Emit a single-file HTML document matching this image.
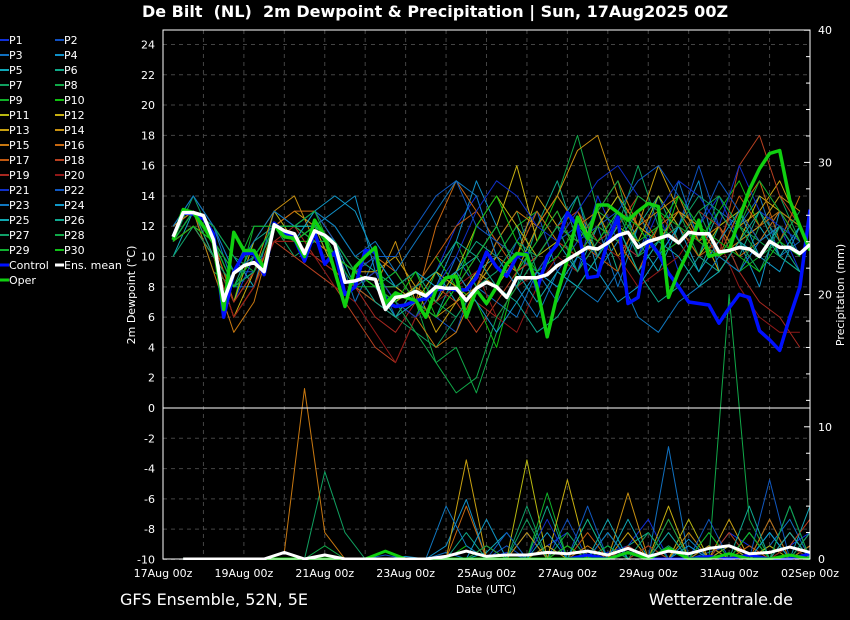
<!DOCTYPE html>
<html><head><meta charset="utf-8"><style>
html,body{margin:0;padding:0;background:#000;}
svg{display:block;font-family:"DejaVu Sans","Liberation Sans",sans-serif;}
</style></head><body>
<svg id="chart" width="850" height="620" viewBox="0 0 850 620">
<rect width="850" height="620" fill="#000"/>
<text x="435" y="17" fill="#fff" font-size="16" font-weight="bold" text-anchor="middle" style="white-space:pre" xml:space="preserve">De Bilt  (NL)  2m Dewpoint &amp; Precipitation | Sun, 17Aug2025 00Z</text>
<defs><clipPath id="plotclip"><rect x="163" y="30" width="647" height="530"/></clipPath></defs>
<g id="grid"></g>
<g id="series" clip-path="url(#plotclip)"></g>
<g id="axes"></g>
<g id="legend"></g>
<text x="120" y="605" fill="#fff" font-size="16">GFS Ensemble, 52N, 5E</text>
<text x="793" y="605" fill="#fff" font-size="16" text-anchor="end">Wetterzentrale.de</text>
</svg>
<script>
const xLabels=["17Aug 00z","19Aug 00z","21Aug 00z","23Aug 00z","25Aug 00z","27Aug 00z","29Aug 00z","31Aug 00z","02Sep 00z"];
const leftTicks=[24,22,20,18,16,14,12,10,8,6,4,2,0,-2,-4,-6,-8,-10];
const rightTicks=[0,10,20,30,40];
const memberNames=["P1","P2","P3","P4","P5","P6","P7","P8","P9","P10","P11","P12","P13","P14","P15","P16","P17","P18","P19","P20","P21","P22","P23","P24","P25","P26","P27","P28","P29","P30"];
const memberColors=["#1030d8","#1050c0","#1070c0","#1090c8","#10a8b8","#10a888","#10a060","#10a848","#10b028","#10c010","#b8b810","#c8b010","#c8a010","#c89010","#c87810","#c86810","#c05810","#b84020","#a82820","#901818","#1030c8","#1058c0","#1078c0","#1098c8","#10a8b0","#10a890","#10a068","#10a848","#10b030","#10c018"];
// Dewpoint, 12-hourly (06z start)
const dP1=[11,13,10,7,10,12,12,11,10,9,8,7,8,9,12,14,10,8,10,12,9,14,11,10,13,9,12,14,11,10,12,9];
const dP2=[11,13,11,9,9,12,11,12,9,8,9,6,7,6,5,9,8,11,13,9,11,12,13,10,14,12,16,12,9,11,13,10];
const dP3=[12,14,12,8,8,13,12,13,11,7,10,8,9,7,10,8,7,6,9,7,10,12,8,12,10,15,11,13,12,14,10,11];
const dP4=[11,13,11,9,10,12,11,12,13,14,9,7,6,8,11,15,12,9,10,12,14,9,11,13,10,12,15,9,11,8,13,12];
const dP5=[10,13,12,10,8,12,12,12,11,8,7,6,8,9,7,9,10,12,8,11,9,12,14,11,9,12,10,13,11,12,10,12];
const dP6=[12,13,10,8,11,12,11,13,12,10,9,8,7,6,9,11,10,8,12,15,11,13,9,12,14,11,9,12,10,13,11,9];
const dP7=[11,14,11,9,10,12,10,11,10,9,8,6,5,4,6,8,11,13,9,11,14,10,12,16,12,11,13,10,9,12,14,11];
const dP8=[11,13,9,8,9,12,12,12,11,9,8,9,7,3,4,1,5,9,12,14,18,13,12,9,11,13,10,14,12,11,10,9];
const dP9=[11,12,10,7,12,12,11,11,10,9,8,7,6,9,11,8,10,12,13,11,10,12,14,12,10,11,13,12,9,10,12,11];
const dP10=[11,13,11,9,10,12,11,11,11,9,8,7,8,10,8,7,4,9,11,14,12,10,13,11,12,14,11,13,15,12,13,12];
const dP11=[11,12,11,7,11,13,11,12,9,8,9,7,8,7,9,12,14,12,10,11,13,10,12,11,14,12,10,12,13,11,12,10];
const dP12=[12,13,10,6,9,12,12,11,10,9,8,8,7,9,8,10,12,16,11,13,10,12,14,12,11,13,12,9,11,14,13,11];
const dP13=[11,12,10,6,8,12,13,12,10,9,9,10,8,5,7,9,8,10,14,12,11,13,10,12,16,13,11,10,12,13,15,12];
const dP14=[11,13,11,7,9,13,14,11,10,9,8,11,7,6,7,8,10,9,12,14,17,18,14,12,11,13,12,10,11,12,14,13];
const dP15=[12,13,9,5,7,12,12,11,10,8,9,7,6,4,5,8,11,13,12,14,12,13,15,12,13,14,11,12,10,11,13,12];
const dP16=[11,12,10,6,8,12,13,13,11,9,10,9,7,12,15,13,11,10,13,11,10,12,11,9,12,13,11,10,13,15,11,14];
const dP17=[11,13,11,7,9,11,11,10,9,8,7,6,8,10,12,13,11,9,10,12,11,10,9,13,11,12,10,11,14,12,13,11];
const dP18=[11,12,10,6,8,11,10,9,8,6,4,3,6,8,7,5,7,9,10,12,13,11,12,14,13,11,12,10,16,18,14,12];
const dP19=[11,12,10,7,9,11,12,10,9,8,6,5,7,8,9,7,6,8,9,11,10,12,11,10,12,11,13,12,9,7,6,4];
const dP20=[11,13,10,6,8,11,11,10,8,7,5,3,6,7,8,9,6,5,8,10,9,11,10,8,9,10,12,11,8,6,5,5];
const dP21=[11,13,11,8,10,12,11,12,10,8,9,7,6,8,10,13,15,14,12,11,13,15,16,14,13,15,14,12,16,13,12,11];
const dP22=[11,13,12,9,10,12,12,13,11,9,10,10,12,14,15,12,11,10,9,11,12,10,13,15,16,14,12,15,13,11,12,10];
const dP23=[12,14,12,9,11,13,12,13,12,10,11,9,11,13,15,14,10,8,6,9,8,7,9,6,5,7,8,10,9,11,12,10];
const dP24=[11,13,11,8,10,12,11,13,14,13,10,8,9,8,9,7,5,7,9,8,10,9,7,8,10,12,9,11,13,10,9,12];
const dP25=[11,13,11,8,9,12,12,12,11,9,8,6,7,8,9,10,12,9,7,9,8,10,12,9,11,10,8,9,11,10,12,10];
const dP26=[11,13,10,8,9,12,11,12,10,9,7,6,8,9,11,10,8,7,5,6,8,10,12,9,7,8,10,9,11,13,10,9];
const dP27=[10,12,10,8,9,12,11,12,10,9,8,8,9,7,6,8,9,11,10,12,9,11,13,10,11,12,14,13,11,9,12,10];
const dP28=[11,13,12,10,9,12,12,11,11,9,8,7,5,3,1,2,6,8,10,12,11,13,15,10,12,11,13,14,12,10,11,13];
const dP29=[11,13,11,9,12,12,12,13,10,8,8,9,7,6,8,10,12,9,11,13,10,12,11,14,13,12,11,10,12,15,13,11];
const dP30=[11,12,11,8,10,12,11,12,10,9,8,7,9,6,8,12,14,11,9,10,12,11,13,12,10,14,12,11,10,9,11,10];
const memberDew=[dP1,dP2,dP3,dP4,dP5,dP6,dP7,dP8,dP9,dP10,dP11,dP12,dP13,dP14,dP15,dP16,dP17,dP18,dP19,dP20,dP21,dP22,dP23,dP24,dP25,dP26,dP27,dP28,dP29,dP30];
// 6-hourly
const controlDew=[11.3,12.9,12.8,12.5,11.5,6.0,9.0,10.2,10.2,8.8,12.2,11.6,11.2,9.7,11.6,9.5,10.3,7.5,8.0,10.4,10.3,7.0,6.7,6.8,7.1,7.2,7.8,7.9,7.8,7.8,8.6,10.3,9.3,8.7,10.0,10.2,7.8,10.0,10.8,12.9,12.0,8.6,8.7,11.0,12.6,6.9,7.3,11.1,10.2,8.9,8.0,7.0,6.9,6.8,5.6,6.6,7.5,7.3,5.1,4.5,3.8,6.0,8.0,13.1];
const operDew=[11.1,13.1,12.9,12.0,10.9,6.5,11.6,10.4,10.4,9.2,12.1,11.3,11.2,10.0,12.4,11.3,9.0,6.7,9.3,10.0,10.6,6.9,7.6,7.3,7.1,6.0,7.8,8.6,8.7,6.0,7.8,6.9,8.0,9.5,10.2,10.1,8.0,4.7,7.5,9.8,12.6,11.2,13.4,13.4,12.9,12.4,13.0,13.5,13.3,7.3,9.0,10.4,12.4,10.0,10.2,10.4,12.5,14.4,15.8,16.8,17.0,13.7,12.0,10.4];
const meanDew=[11.3,12.9,12.9,12.7,11.1,7.1,8.9,9.4,9.6,9.0,12.1,11.7,11.5,10.2,11.7,11.4,10.8,8.3,8.4,8.6,8.5,6.5,7.3,7.4,7.7,7.4,8.0,7.9,7.9,7.1,7.9,8.3,8.0,7.3,8.6,8.6,8.6,8.8,9.4,9.8,10.2,10.6,10.5,10.9,11.4,11.6,10.6,11.0,11.2,11.4,10.9,11.6,11.5,11.5,10.3,10.4,10.6,10.5,10.0,11.0,10.6,10.6,10.2,10.8];
// Precipitation, 12-hourly (12z start)
const pP1=[0,0,0,0,0,0,0,0,0,0,0,0,0,0,0,0,0.5,0,1,2,0,0.5,1,3,0,1,0,2,1,0,1,2];
const pP2=[0,0,0,0,0,0,0,0,0,0,0.3,0,0,0,0,0,1,0,0,3,0,0,1,0,2,0,0.5,1,0,2,0,1];
const pP3=[0,0,0,0,0,0,0,0,0,0,0,0,0,0.5,0,0,0,0,1,0,0,2,0,0,8.5,0,1,0,0,1,3,0];
const pP4=[0,0,0,0,0,0,0,0,0,0,0,0.2,0,1,4.5,0,0,2,0,0,0,1,0,0,0,1.5,0,0,2,0,0,1];
const pP5=[0,0,0,0,0,0,0,0,0,0,0,0,0,0,0,0.5,2,0,0,1,0,0,3,0,0,0,1,0,0,2,0,4];
const pP6=[0,0,0,0,0,0,0,0,0,0,0,0,0,0,2,0,0,0,4,0,0,0,1,2,0,0,0,1,0,3,0,0];
const pP7=[0,0,0,0,0,0,0,6.6,2,0,0,0,0,0,0,0,0,3,0,0,0,2,0,0,1,0,0,0,2,0,0,1];
const pP8=[0,0,0,0,0,0,0,1,0,0,0,0,0,0,0,0,0,0,0,2,0,0,0,0,0,0,0,20,3,0,1,0];
const pP9=[0,0,0,0,0,0,0,0,0,0,0,0,0,0,0,0,0,0,5,0,0,1,0,0,0,2,0,0,0,0,1,0];
const pP10=[0,0,0,0,0,0,0,0,0,0,0,0,0,0,1,0,0,0,0,0,3,0,0,1,0,0,0,0,2,0,4,0];
const pP11=[0,0,0,0,0,0,0,0,0,0,0,0,0,0,0,0,0,7.5,0,0,0,0,0,1,0,3,0,0,0,1,0,2];
const pP12=[0,0,0,0,0,0,0,0,0,0,0,0,0,0,0,0,0,0,0,6,0,0,0,0,4,0,0,1,0,0,2,0];
const pP13=[0,0,0,0,0,0,0,0,0,0,0,0,0,0,7.5,0,0,0,1,0,0,0,2,0,0,0,0,3,0,0,0,1];
const pP14=[0,0,0,0,0,0,0,0,0,0,0,0,0,0,0,0,0,2,0,0,0,0,5,0,0,0,1,0,0,0,2,0];
const pP15=[0,0,0,0,0,0.5,12.9,2,0,0,0,0,0,0,0,0,0,0,0,0,1,0,0,0,0,2,0,0,1,0,0,0];
const pP16=[0,0,0,0,0,0,0,0,0,0,0,0,0,0,4,0,0,0,0,1,0,0,0,0,0,0,0,0,0,3,0,1];
const pP17=[0,0,0,0,0,0,0,0,0,0,0,0,0,0,0,1,0,0,0,0,2,0,0,0,3,0,0,0,1,0,0,0];
const pP18=[0,0,0,0,0,0,0,0,0,0,0,0,0,0,0,0,0,0,0,0,0,0,1,0,0,0,0,2,0,0,1,3];
const pP19=[0,0,0,0,0,0,0,0,0,0,0,0,0,0,0,0,0,0,0,0,0,0,0,1,0,0,0,0,0,0,0,0];
const pP20=[0,0,0,0,0,0,0,0,0,0,0,0,0,0,0,0,0,0,0,0,0,0,0,0,0,0,0,0,0,0,1,0];
const pP21=[0,0,0,0,0,0,0,0,0,0,0,0,0,0,0,0,0,0,3,0,0,1,0,0,0,0,2,0,0,0,4,0];
const pP22=[0,0,0,0,0,0,0,0,0,0,0,0,0,0,0,0,2,0,0,0,4,0,0,0,0,0,3,0,0,6,0,2];
const pP23=[0,0,0,0,0,0,0,0,0,0,0,0,0,4,1,0,0,0,0,0,0,2,0,0,0,0,0,0,0,0,0,0];
const pP24=[0,0,0,0,0,0,0,0,0,0,0,0,0,0,0,3,0,0,2,0,0,0,0,0,0,1,0,0,0,2,0,0];
const pP25=[0,0,0,0,0,0,0,0,0,0,0,0,0,0,0,0,0,0,0,0,0,3,0,0,0,0,0,0,0,0,2,0];
const pP26=[0,0,0,0,0,0,0,0,0,0,0,0,0,0,0,0,0,0,0,0,3,0,0,0,2,0,0,0,4,0,0,0];
const pP27=[0,0,0,0,0,0,0,0,0,0,0,0,0,0,0,0,0,4,0,0,0,0,0,2,0,0,0,0,0,0,0,2];
const pP28=[0,0,0,0,0,0,0,0,0,0,0,0,0,0,0,1,0,0,0,0,0,0,0,0,3,0,0,0,0,0,4,0];
const pP29=[0,0,0,0,0,0,0,0,0,0,0,0,0,0,0,0,0,0,0,0,0,1,0,0,0,0,0,0,2,0,0,0];
const pP30=[0,0,0,0,0,0,0,0,0,0,0,0,0,0,0,0,0,0,0,1,0,0,0,0,0,0,2,0,0,0,0,0];
const memberPrecip=[pP1,pP2,pP3,pP4,pP5,pP6,pP7,pP8,pP9,pP10,pP11,pP12,pP13,pP14,pP15,pP16,pP17,pP18,pP19,pP20,pP21,pP22,pP23,pP24,pP25,pP26,pP27,pP28,pP29,pP30];
const meanPrecip=[0,0,0,0,0,0.5,0,0.3,0,0,0,0,0,0.2,0.6,0.2,0.3,0.3,0.5,0.4,0.6,0.3,0.8,0.2,0.6,0.4,0.8,1.0,0.4,0.5,0.9,0.5];
const controlPrecip=[0,0,0,0,0,0,0,0,0,0,0,0,0,0,0,0,0,0,0,0,0.3,0,0.5,0,0,0,0.2,0,0.3,0,0,0.4];
const operPrecip=[0,0,0,0,0,0,0,0,0,0,0.6,0,0,0,0,0,0,0,0,0,0,0,0.5,0,0.8,0,0,0.4,0,0,0.3,0];

const NS="http://www.w3.org/2000/svg";
const X0=163,X1=810,DAYS=16;
const xScale=h=>X0+(h/24)*(X1-X0)/DAYS;
const yDew=v=>408-(v)*15.147;
const yPr=v=>559-v*13.22;
function mk(tag,attrs,parent){const e=document.createElementNS(NS,tag);for(const k in attrs)e.setAttribute(k,attrs[k]);parent.appendChild(e);return e;}
const grid=document.getElementById('grid'),series=document.getElementById('series'),axes=document.getElementById('axes'),legend=document.getElementById('legend');

leftTicks.forEach(t=>{if(t===0)return;const l=mk('line',{x1:X0,x2:X1,y1:yDew(t),y2:yDew(t),stroke:'#444','stroke-dasharray':'4,4'},grid);

});
for(let d=1;d<DAYS;d++){const l=mk('line',{x1:xScale(d*24),x2:xScale(d*24),y1:30,y2:559,stroke:'#444','stroke-dasharray':'4,4'},grid);

}

function path(vals,xf,yf,color,w,name){
 const d=vals.map((v,i)=>(i?'L':'M')+xf(i).toFixed(1)+','+yf(v).toFixed(1)).join('');
 const p=mk('path',{d:d,fill:'none',stroke:color,'stroke-width':w,'stroke-linejoin':'round'},series);
 
 
}
const x12d=i=>xScale(6+i*12), x6=i=>xScale(6+i*6), x12p=i=>xScale(12+i*12);
memberDew.forEach((arr,k)=>path(arr,x12d,yDew,memberColors[k],1,'dewpoint-'+memberNames[k].toLowerCase()));
memberPrecip.forEach((arr,k)=>path(arr,x12p,yPr,memberColors[k],1,'precip-'+memberNames[k].toLowerCase()));
path(controlPrecip,x12p,yPr,'#0010ff',3,'precip-control');
path(operPrecip,x12p,yPr,'#10d010',3,'precip-oper');
path(meanPrecip,x12p,yPr,'#ffffff',3,'precip-ens-mean');
path(controlDew,x6,yDew,'#0010ff',3.5,'dewpoint-control');
path(operDew,x6,yDew,'#10d010',3.5,'dewpoint-oper');
path(meanDew,x6,yDew,'#ffffff',3.5,'dewpoint-ens-mean');

let z=mk('line',{x1:X0,x2:X1,y1:yDew(0),y2:yDew(0),stroke:'#fff','stroke-width':1},axes);


let fr=mk('rect',{x:X0,y:30,width:X1-X0,height:529,fill:'none',stroke:'#fff','stroke-width':1},axes);


leftTicks.forEach(t=>{const tx=mk('text',{x:155,y:yDew(t)+4,fill:'#fff','font-size':11,'text-anchor':'end'},axes);tx.textContent=t;

});
for(let m=0;m<=40;m+=2){const major=m%10===0;const l=mk('line',{x1:X1,x2:X1-(major?6:4),y1:yPr(m),y2:yPr(m),stroke:'#fff'},axes);

}
rightTicks.forEach(t=>{const tx=mk('text',{x:818,y:yPr(t)+4,fill:'#fff','font-size':11},axes);tx.textContent=t;

});
xLabels.forEach((s,i)=>{const tx=mk('text',{x:xScale(i*48),y:577,fill:'#fff','font-size':11,'text-anchor':'middle'},axes);tx.textContent=s;

});
let t1=mk('text',{x:486,y:593,fill:'#fff','font-size':11,'text-anchor':'middle'},axes);t1.textContent='Date (UTC)';


let t2=mk('text',{x:0,y:0,fill:'#fff','font-size':11,'text-anchor':'middle',transform:'translate(135,295) rotate(-90)'},axes);t2.textContent='2m Dewpoint (°C)';


let t3=mk('text',{x:0,y:0,fill:'#fff','font-size':11,'text-anchor':'middle',transform:'translate(844,295) rotate(-90)'},axes);t3.textContent='Precipitation (mm)';



const legItems=memberNames.map((n,k)=>[n,memberColors[k]]).concat([["Control","#0010ff"],["Ens. mean","#ffffff"],["Oper","#10d010"]]);
legItems.forEach((it,k)=>{const col=k%2,row=Math.floor(k/2);const lx=col?55:0,ly=40+row*15;
 const g=mk('g',{},legend);
 
 
 mk('line',{x1:lx,x2:lx+9,y1:ly,y2:ly,stroke:it[1],'stroke-width':(k>=30?3:2)},g);
 const tx=mk('text',{x:lx+9,y:ly+4,fill:'#fff','font-size':11},g);tx.textContent=it[0];});
</script>
</body></html>
